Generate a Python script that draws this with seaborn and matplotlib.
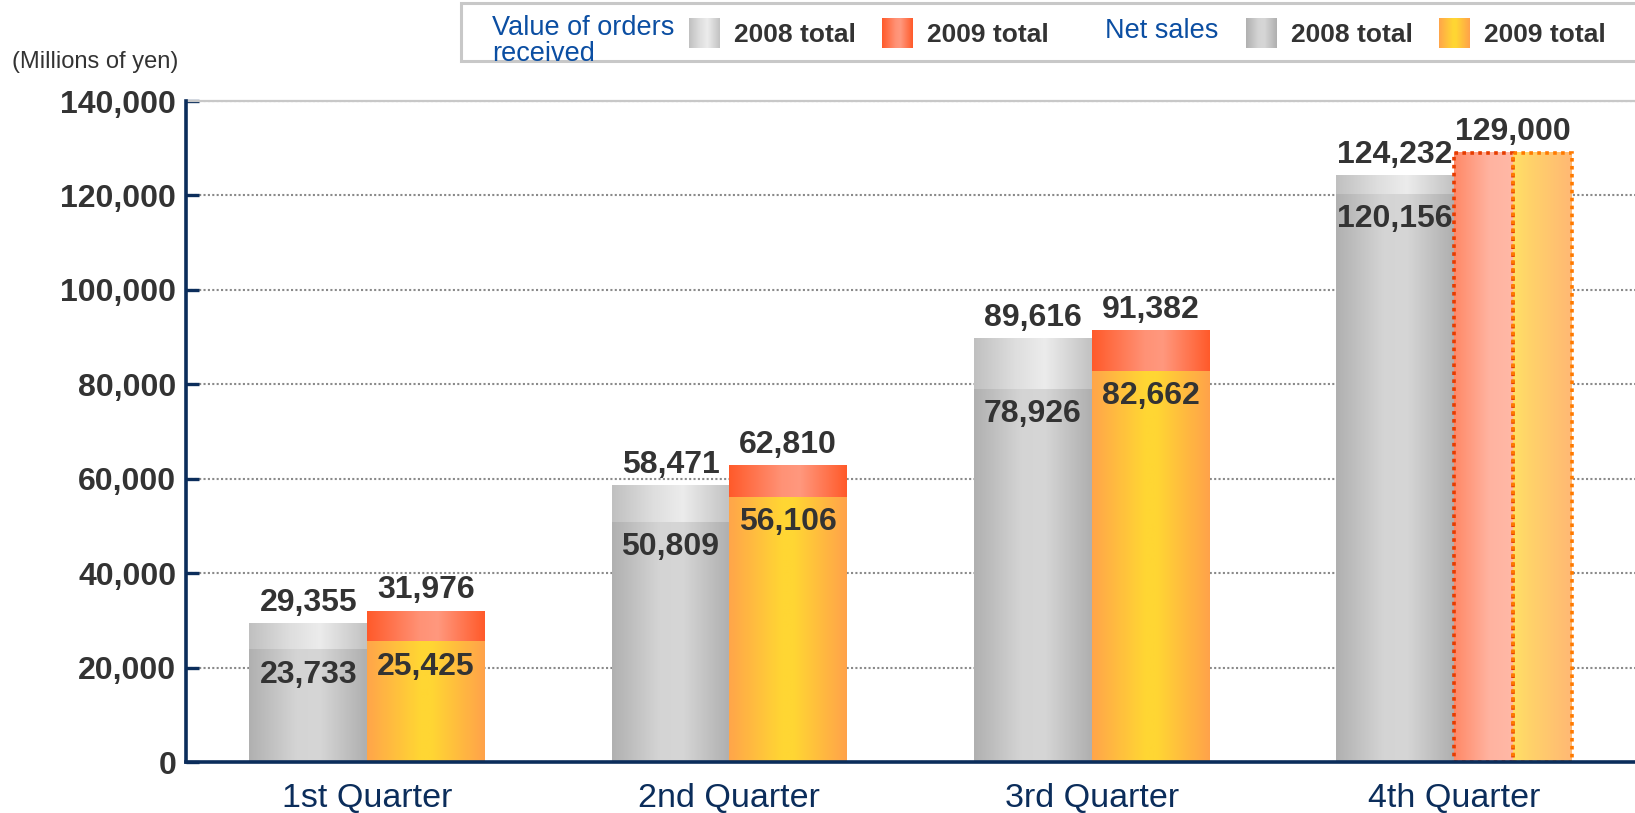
import numpy as np
import pandas as pd
import matplotlib
matplotlib.use('Agg')
import matplotlib.pyplot as plt
import seaborn as sns
from matplotlib.colors import LinearSegmentedColormap
from matplotlib.patches import Rectangle

# data (millions of yen)
quarters = ['1st Quarter', '2nd Quarter', '3rd Quarter', '4th Quarter']
orders_2008 = [29355, 58471, 89616, 124232]
orders_2009 = [31976, 62810, 91382, 129000]
sales_2008 = [23733, 50809, 78926, 120156]
sales_2009 = [25425, 56106, 82662, 129000]
forecast_quarter = 3  # 2009 4th quarter figures are forecasts
yticks = [0, 20000, 40000, 60000, 80000, 100000, 120000, 140000]

df = pd.DataFrame({
    'quarter': quarters * 2,
    'year': ['2008'] * 4 + ['2009'] * 4,
    'orders': orders_2008 + orders_2009,
    'sales': sales_2008 + sales_2009,
})

NAVY = '#0b2d5b'
TXT = '#333333'
BLUE = '#0b4ea2'

# gradients (left -> right)
grad = {
    ('orders', '2008'): ([0, 0.35, 0.6, 1], ['#c0c0c0', '#dedede', '#ececec', '#c2c2c2']),
    ('sales', '2008'): ([0, 0.4, 0.6, 1], ['#b0b0b0', '#d4d4d4', '#d6d6d6', '#afafaf']),
    ('orders', '2009'): ([0, 0.45, 0.6, 1], ['#ff5a2a', '#ff9276', '#ff987e', '#ff5a2a']),
    ('sales', '2009'): ([0, 0.45, 0.55, 1], ['#ffa54a', '#ffd633', '#ffd633', '#ffa24a']),
    ('orders', 'fc'): ([0, 0.6, 1], ['#ff8866', '#ffb3a0', '#ffb8a6']),
    ('sales', 'fc'): ([0, 0.3, 1], ['#ffe066', '#ffd26a', '#ffb874']),
}


def gradient(ax, key, x0, x1, y0, y1, z):
    stops, cols = grad[key]
    cmap = LinearSegmentedColormap.from_list('g', list(zip(stops, cols)))
    img = np.linspace(0, 1, 256).reshape(1, -1)
    ax.imshow(img, cmap=cmap, extent=[x0, x1, y0, y1], aspect='auto',
              origin='lower', zorder=z, interpolation='bilinear')


sns.set_style('white')
plt.rcParams['font.family'] = ['Liberation Sans', 'DejaVu Sans']

fig = plt.figure(figsize=(16.35, 8.13), dpi=100)
ax = fig.add_axes([186 / 1635, 51 / 813, 1 - 186 / 1635, 661 / 813])

sns.barplot(data=df, x='quarter', y='orders', hue='year', width=0.65, ax=ax,
            errorbar=None, legend=False, saturation=1, palette=['#cccccc', '#ff7050'])
n_orders = len(ax.patches)
sns.barplot(data=df, x='quarter', y='sales', hue='year', width=0.65, ax=ax,
            errorbar=None, legend=False, saturation=1, palette=['#c0c0c0', '#ffc040'])

bars = {}
for i, p in enumerate(ax.patches):
    if p.get_height() == 0:
        continue
    kind = 'orders' if i < n_orders else 'sales'
    c = p.get_x() + p.get_width() / 2
    qi = int(round(c))
    year = '2008' if c < qi else '2009'
    bars[(kind, year, qi)] = p

for (kind, year, qi), p in bars.items():
    p.set_facecolor('none')
    p.set_edgecolor('none')
    key = (kind, year)
    if year == '2009' and qi == forecast_quarter:
        half = p.get_width() / 2
        p.set_width(half)
        if kind == 'sales':
            p.set_x(p.get_x() + half)
        p.set_edgecolor('#e63c00' if kind == 'orders' else '#ff7a00')
        p.set_linestyle((0, (1, 1.2)))
        p.set_linewidth(2.6)
        p.set_zorder(5)
        key = (kind, 'fc')
    z = 1 if kind == 'orders' else 2
    gradient(ax, key, p.get_x(), p.get_x() + p.get_width(), 0, p.get_height(), z)

lab_kw = dict(fontsize=23, fontweight='bold', color=TXT, ha='center',
              textcoords='offset points', zorder=6)
for qi in range(4):
    ax.annotate(f'{orders_2008[qi]:,}', (qi - 0.1625, orders_2008[qi]),
                xytext=(0, 4), va='bottom', **lab_kw)
    ax.annotate(f'{orders_2009[qi]:,}', (qi + 0.1625, orders_2009[qi]),
                xytext=(0, 4), va='bottom', **lab_kw)
    ax.annotate(f'{sales_2008[qi]:,}', (qi - 0.1625, sales_2008[qi]),
                xytext=(0, -7), va='top', **lab_kw)
    if qi != forecast_quarter:
        ax.annotate(f'{sales_2009[qi]:,}', (qi + 0.1625, sales_2009[qi]),
                    xytext=(0, -7), va='top', **lab_kw)

ax.set_xlim(-0.5, 3.5)
ax.set_ylim(0, 140000)
ax.set_yticks(yticks)
ax.set_yticklabels([f'{v:,}' for v in yticks], fontsize=23, fontweight='bold', color=TXT)
ax.set_xticks(range(4))
ax.set_xticklabels(quarters, fontsize=24.5, color=NAVY)
ax.set_xticks([0.5, 1.5, 2.5], minor=True)
ax.set_xlabel('')
ax.set_ylabel('')
ax.tick_params(axis='x', which='major', length=0, pad=15)
ax.tick_params(axis='x', which='minor', direction='in', length=10, width=2.4, color=NAVY)
ax.tick_params(axis='y', direction='in', length=9, width=2.4, color=NAVY, pad=7, left=True)

ax.set_axisbelow(True)
ax.yaxis.grid(True, color='#8a8a8a', linewidth=1.5, linestyle=(0, (1, 1.1)))
ax.xaxis.grid(False)
for s in ['left', 'bottom']:
    ax.spines[s].set_color(NAVY)
    ax.spines[s].set_linewidth(2.6)
    ax.spines[s].set_zorder(7)
ax.spines['top'].set_color('#c8c8c8')
ax.spines['top'].set_linewidth(1.6)
ax.spines['right'].set_visible(False)

fig.text(12 / 1635, 1 - 62 / 813, '(Millions of yen)', fontsize=17, color=TXT, va='center')

# legend box, drawn in pixel coordinates
lg = fig.add_axes([0, 0, 1, 1], zorder=10)
lg.set_xlim(0, 1635)
lg.set_ylim(813, 0)
lg.axis('off')
lg.add_patch(Rectangle((461, 3), 1200, 58, facecolor='white', edgecolor='#c8c8c8', linewidth=2.2))
lg.text(492, 15, 'Value of orders\nreceived', fontsize=19.5, color=BLUE, va='top',
        linespacing=1.02)
lg.text(1105, 38, 'Net sales', fontsize=19.5, color=BLUE, va='baseline')
legend_items = [(689, ('orders', '2008')), (882, ('orders', '2009')),
                (1246, ('sales', '2008')), (1439, ('sales', '2009'))]
for x0, key in legend_items:
    gradient(lg, key, x0, x0 + 31, 48, 18, 11)
    lg.text(x0 + 45, 42, '2008 total' if key[1] == '2008' else '2009 total',
            fontsize=19, fontweight='bold', color=TXT, va='baseline')
lg.set_xlim(0, 1635)
lg.set_ylim(813, 0)

fig.savefig('out.png', dpi=100)
